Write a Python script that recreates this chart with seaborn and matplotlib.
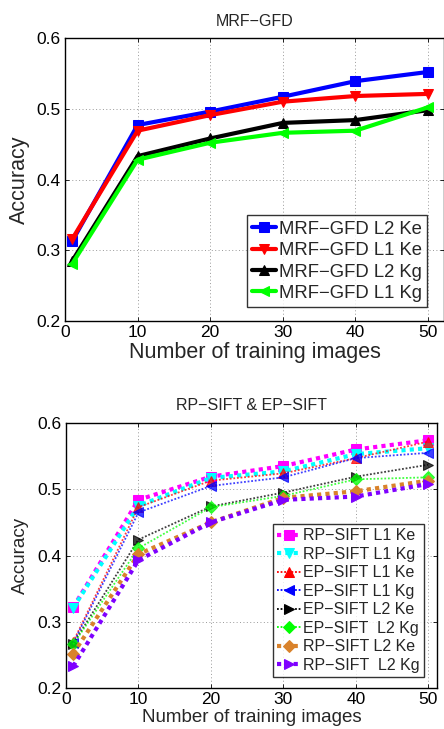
import matplotlib
matplotlib.use("Agg")
import matplotlib.pyplot as plt
import seaborn as sns
import pandas as pd

sns.set_theme(style="white")
plt.rcParams['font.family'] = ['Liberation Sans', 'DejaVu Sans']

# ---------------- data ----------------
x_train = [1, 10, 20, 30, 40, 50]

top_title = "MRF−GFD"
top_labels = ["MRF−GFD L2 Ke", "MRF−GFD L1 Ke", "MRF−GFD L2 Kg", "MRF−GFD L1 Kg"]
mrf_l2_ke = [0.313, 0.477, 0.496, 0.517, 0.539, 0.552]
mrf_l1_ke = [0.316, 0.469, 0.491, 0.510, 0.518, 0.521]
mrf_l2_kg = [0.285, 0.433, 0.458, 0.480, 0.484, 0.498]
mrf_l1_kg = [0.281, 0.428, 0.452, 0.466, 0.469, 0.502]
top_values = [mrf_l2_ke, mrf_l1_ke, mrf_l2_kg, mrf_l1_kg]

bot_title = "RP−SIFT & EP−SIFT"
bot_labels = ["RP−SIFT L1 Ke", "RP−SIFT L1 Kg", "EP−SIFT L1 Ke", "EP−SIFT L1 Kg",
              "EP−SIFT L2 Ke", "EP−SIFT  L2 Kg", "RP−SIFT L2 Ke", "RP−SIFT  L2 Kg"]
rp_l1_ke = [0.322, 0.484, 0.519, 0.535, 0.560, 0.574]
rp_l1_kg = [0.321, 0.475, 0.517, 0.527, 0.553, 0.562]
ep_l1_ke = [0.270, 0.473, 0.513, 0.524, 0.547, 0.572]
ep_l1_kg = [0.268, 0.465, 0.505, 0.518, 0.547, 0.555]
ep_l2_ke = [0.267, 0.424, 0.474, 0.495, 0.519, 0.537]
ep_l2_kg = [0.266, 0.411, 0.473, 0.490, 0.515, 0.518]
rp_l2_ke = [0.252, 0.402, 0.450, 0.487, 0.497, 0.513]
rp_l2_kg = [0.233, 0.393, 0.450, 0.484, 0.489, 0.508]
bot_values = [rp_l1_ke, rp_l1_kg, ep_l1_ke, ep_l1_kg, ep_l2_ke, ep_l2_kg, rp_l2_ke, rp_l2_kg]

y_ticks = [0.2, 0.3, 0.4, 0.5, 0.6]
x_ticks = [0, 10, 20, 30, 40, 50]
xlabel = "Number of training images"
ylabel = "Accuracy"

# ---------------- styles ----------------
top_colors = ["#0000ff", "#ff0000", "#000000", "#00ff00"]
top_markers = ["s", "v", "^", "<"]

bot_colors = ["#ff00ff", "#00ffff", "#ff0000", "#0000ff", "#000000", "#00ff00", "#d9822b", "#7f00ff"]
bot_markers = ["s", "v", "^", "<", ">", "D", "D", ">"]
bot_is_rp = [True, True, False, False, False, False, True, True]

fig = plt.figure(figsize=(4.44, 7.29), dpi=100)
W, H = 444, 729

def place(l, t, r, b):
    return [l / W, 1 - b / H, (r - l) / W, (b - t) / H]

ax1 = fig.add_axes(place(65, 38, 444, 321))
ax2 = fig.add_axes(place(66, 423, 437, 688))

def style_axes(ax, xmax):
    ax.set_xlim(0, xmax)
    ax.set_ylim(0.2, 0.6)
    ax.set_xticks(x_ticks)
    ax.set_yticks(y_ticks)
    ax.set_yticklabels([f"{v:.1f}" for v in y_ticks])
    ax.grid(True, linestyle=(0, (1, 2.5)), color="#999999", linewidth=0.7)
    ax.set_axisbelow(True)
    for s in ax.spines.values():
        s.set_color("black")
        s.set_linewidth(1.0)
    ax.tick_params(direction="in", length=3, width=0.6, top=True, right=True,
                   bottom=True, left=True, labelsize=12.5, pad=3, colors="black")
    ax.set_facecolor("white")

# top chart
for lab, vals, c, m in zip(top_labels, top_values, top_colors, top_markers):
    df = pd.DataFrame({"x": x_train, "y": vals})
    sns.lineplot(data=df, x="x", y="y", ax=ax1, color=c, marker=m, markersize=7,
                 markeredgecolor=c, linewidth=3, label=lab)
style_axes(ax1, 52.2)
ax1.set_title(top_title, fontsize=11.5, pad=9)
ax1.set_xlabel(xlabel, fontsize=15.5, labelpad=1)
ax1.set_ylabel(ylabel, fontsize=15.5, labelpad=5)
leg1 = ax1.legend(loc="lower right", bbox_to_anchor=(0.955, 0.049), fontsize=13.3,
                  frameon=True, fancybox=False, edgecolor="black", handlelength=1.3,
                  handletextpad=0.15, borderpad=0.28, labelspacing=0.24, borderaxespad=0)
leg1.get_frame().set_linewidth(1.0)

# bottom chart
for lab, vals, c, m, rp in zip(bot_labels, bot_values, bot_colors, bot_markers, bot_is_rp):
    df = pd.DataFrame({"x": x_train, "y": vals})
    if rp:
        sns.lineplot(data=df, x="x", y="y", ax=ax2, color=c, marker=m, markersize=6.5,
                     markeredgecolor=c, linewidth=3, linestyle=(0, (1, 1)), label=lab)
    else:
        sns.lineplot(data=df, x="x", y="y", ax=ax2, color=c, marker=m, markersize=6.5,
                     markeredgecolor=c, linewidth=1.3, linestyle=(0, (1, 1)), alpha=0.75,
                     label=lab)
style_axes(ax2, 51.2)
ax2.set_title(bot_title, fontsize=11.5, pad=9)
ax2.set_xlabel(xlabel, fontsize=13.5, labelpad=1)
ax2.set_ylabel(ylabel, fontsize=13.5, labelpad=6)
leg2 = ax2.legend(loc="lower right", bbox_to_anchor=(0.965, 0.042), fontsize=11.5,
                  frameon=True, fancybox=False, edgecolor="black", handlelength=1.5,
                  handletextpad=0.15, borderpad=0.25, labelspacing=0.22, borderaxespad=0)
leg2.get_frame().set_linewidth(1.0)
for h in leg2.get_lines():
    h.set_alpha(1.0)

fig.savefig("out.png", dpi=100)
